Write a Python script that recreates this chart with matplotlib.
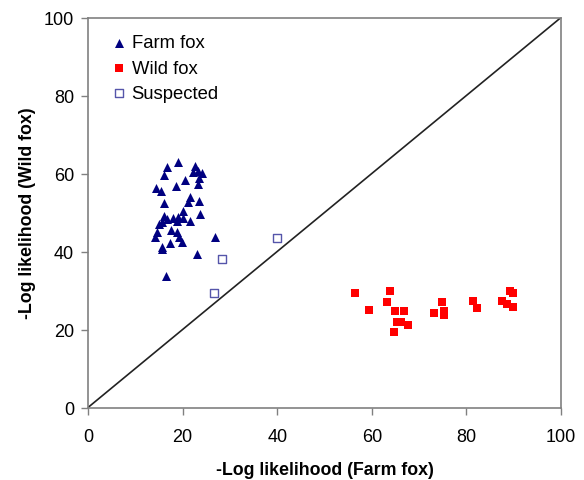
import matplotlib
matplotlib.use("Agg")
import matplotlib.pyplot as plt

plt.rcParams['font.family'] = ['Liberation Sans', 'DejaVu Sans']

farm_x = [19.1, 16.6, 22.6, 23.3, 22.3, 24.0, 16.1, 20.5, 23.5, 14.4, 15.4, 18.6, 23.3,
          21.6, 23.5, 21.2, 16.1, 20.0, 23.7, 16.1, 16.8, 18.0, 19.1, 20.1, 21.6, 15.6,
          15.1, 18.8, 17.5, 14.5, 18.8, 14.2, 19.3, 17.3, 15.6, 19.8, 26.8, 23.1, 16.5, 15.6]
farm_y = [62.9, 61.6, 61.8, 60.7, 60.3, 60.1, 59.6, 58.3, 58.8, 56.2, 55.6, 56.7, 57.3,
          53.9, 53.0, 52.6, 52.4, 50.5, 49.6, 49.2, 48.3, 48.5, 48.8, 48.5, 47.9, 47.5,
          47.1, 47.9, 45.6, 44.9, 44.9, 43.6, 43.6, 42.2, 41.1, 42.4, 43.6, 39.4, 33.6, 40.6]

wild_x = [56.4, 59.5, 63.8, 63.3, 64.9, 66.9, 65.3, 66.2, 67.7, 64.7, 73.2, 74.8, 75.3,
          75.3, 81.5, 82.2, 87.5, 88.5, 89.2, 89.8, 89.8]
wild_y = [29.3, 25.1, 29.8, 27.1, 24.7, 24.8, 22.0, 22.0, 21.2, 19.3, 24.2, 27.0, 24.8,
          23.7, 27.2, 25.4, 27.4, 26.5, 29.8, 29.4, 25.8]

susp_x = [39.9, 28.4, 26.7]
susp_y = [43.5, 38.1, 29.4]

xticks = [0, 20, 40, 60, 80, 100]
yticks = [0, 20, 40, 60, 80, 100]

fig = plt.figure(figsize=(5.84, 4.81), dpi=100)
ax = fig.add_axes([88/584, 1-408.5/481, (561-88)/584, (408.5-18.5)/481])

ax.plot([0, 100], [0, 100], color='#222222', lw=1.2, zorder=1)
ax.scatter(farm_x, farm_y, marker='^', s=42, color='#000080', label='Farm fox', zorder=3, linewidths=0)
ax.scatter(wild_x, wild_y, marker='s', s=34, color='#ff0000', label='Wild fox', zorder=3, linewidths=0)
ax.scatter(susp_x, susp_y, marker='s', s=30, facecolors='white', edgecolors='#5555aa',
           linewidths=1.0, label='Suspected', zorder=3)

ax.set_xlim(0, 100)
ax.set_ylim(0, 100)
ax.set_xticks(xticks)
ax.set_yticks(yticks)
ax.tick_params(axis='both', labelsize=13, length=5, width=1, color='#808080')
ax.tick_params(axis='x', pad=10)
ax.tick_params(axis='y', pad=5)
for s in ax.spines.values():
    s.set_color('#808080')
    s.set_linewidth(1.2)

ax.set_xlabel('-Log likelihood (Farm fox)', fontsize=12.8, fontweight='bold', labelpad=11)
ax.set_ylabel('-Log likelihood (Wild fox)', fontsize=12.8, fontweight='bold', labelpad=6)

leg = ax.legend(loc='upper left', bbox_to_anchor=(0.018, 0.985), frameon=False, fontsize=13.3,
                handletextpad=0.1, labelspacing=0.45, handlelength=1.2, borderaxespad=0.2)

fig.savefig('out.png', dpi=100)
